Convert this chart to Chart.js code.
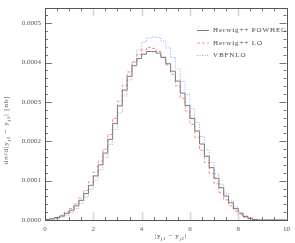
<!DOCTYPE html>
<html>
<head>
<meta charset="utf-8">
<script src="https://cdn.jsdelivr.net/npm/chart.js@4/dist/chart.umd.min.js"></script>
<style>
  html, body { margin: 0; padding: 0; background: #fff; }
  #wrap { width: 295px; height: 243px; }
</style>
</head>
<body>
<div id="wrap"><canvas id="c"></canvas></div>
<script>
// |y_j1 - y_j2| histograms, bins of 0.2 from 0 to 10
const binStart = 0;
const binWidth = 0.2;
const seriesNames = ['Herwig++ POWHEG', 'Herwig++ LO', 'VBFNLO'];
const xTicks = [0, 2, 4, 6, 8, 10];
const yTicks = [0.0000, 0.0001, 0.0002, 0.0003, 0.0004, 0.0005];

const powheg = [
  0.5e-6, 1.5e-6, 3e-6, 6e-6, 10e-6, 17e-6, 25e-6, 36e-6, 50e-6, 67e-6,
  88e-6, 112e-6, 140e-6, 170e-6, 205e-6, 245e-6, 290e-6, 330e-6, 365e-6, 392e-6,
  410e-6, 421e-6, 428e-6, 428e-6, 424e-6, 413e-6, 397e-6, 378e-6, 353e-6, 322e-6,
  291e-6, 258e-6, 226e-6, 193e-6, 162e-6, 133e-6, 106e-6, 82e-6, 61e-6, 44e-6,
  29e-6, 17e-6, 9e-6, 4e-6, 1e-6, 0, 0, 0, 0, 0
];
const lo = [
  0.6e-6, 1.8e-6, 3.5e-6, 7e-6, 12e-6, 20e-6, 29e-6, 41e-6, 56e-6, 75e-6,
  97e-6, 122e-6, 150e-6, 180e-6, 217e-6, 258e-6, 302e-6, 342e-6, 376e-6, 402e-6,
  420e-6, 432e-6, 438e-6, 436e-6, 428e-6, 414e-6, 394e-6, 370e-6, 341e-6, 309e-6,
  277e-6, 243e-6, 210e-6, 177e-6, 146e-6, 118e-6, 92e-6, 70e-6, 51e-6, 36e-6,
  23e-6, 13e-6, 7e-6, 3e-6, 1e-6, 0, 0, 0, 0, 0
];
const vbfnlo = [
  0.3e-6, 1e-6, 2e-6, 4e-6, 7e-6, 12e-6, 19e-6, 29e-6, 42e-6, 58e-6,
  78e-6, 101e-6, 128e-6, 158e-6, 192e-6, 230e-6, 272e-6, 315e-6, 356e-6, 400e-6,
  432e-6, 452e-6, 462e-6, 465e-6, 464e-6, 455e-6, 437e-6, 413e-6, 384e-6, 352e-6,
  318e-6, 283e-6, 247e-6, 212e-6, 178e-6, 146e-6, 117e-6, 91e-6, 68e-6, 49e-6,
  33e-6, 20e-6, 11e-6, 5e-6, 1.5e-6, 0, 0, 0, 0, 0
];

function steps(vals) {
  const pts = vals.map((v, i) => ({ x: binStart + i * binWidth, y: v }));
  pts.push({ x: binStart + vals.length * binWidth, y: vals[vals.length - 1] });
  return pts;
}

const FONT = '"Liberation Serif", serif';

// draw text with simple subscripts: parts = [[text, isSub], ...]
function subText(ctx, parts, x, y, size) {
  let cx = x;
  parts.forEach(([t, sub]) => {
    ctx.font = (sub ? size * 0.7 : size) + 'px ' + FONT;
    ctx.fillText(t, cx, y + (sub ? size * 0.25 : 0));
    cx += ctx.measureText(t).width;
  });
}
function subWidth(ctx, parts, size) {
  let w = 0;
  parts.forEach(([t, sub]) => {
    ctx.font = (sub ? size * 0.7 : size) + 'px ' + FONT;
    w += ctx.measureText(t).width;
  });
  return w;
}

const framePlugin = {
  id: 'frame',
  afterDatasetsDraw(chart) {
    const { ctx, chartArea: a, scales: { x, y } } = chart;
    ctx.save();
    // minor/major ticks, pointing inwards on all four sides
    for (let v = 0.5; v < 10; v += 0.5) {
      const px = Math.round(x.getPixelForValue(v)) + 0.5;
      const major = Math.abs(v / 2 - Math.round(v / 2)) < 1e-9;
      if (major) { ctx.strokeStyle = '#d6d6d6'; ctx.lineWidth = 1.6; }
      else { ctx.strokeStyle = '#777'; ctx.lineWidth = 1; }
      const len = major ? 8 : 3;
      ctx.beginPath();
      ctx.moveTo(px, a.bottom); ctx.lineTo(px, a.bottom - len);
      ctx.moveTo(px, a.top); ctx.lineTo(px, a.top + len);
      ctx.stroke();
    }
    ctx.strokeStyle = '#777'; ctx.lineWidth = 1;
    for (let k = 1; k * 0.00002 < y.max; k++) {
      const v = k * 0.00002;
      const py = Math.round(y.getPixelForValue(v)) + 0.5;
      const len = k % 5 === 0 ? 7 : 3;
      ctx.beginPath();
      ctx.moveTo(a.left, py); ctx.lineTo(a.left + len, py);
      ctx.moveTo(a.right, py); ctx.lineTo(a.right - len, py);
      ctx.stroke();
    }
    // frame
    ctx.strokeStyle = '#555';
    ctx.strokeRect(Math.round(a.left) + 0.5, Math.round(a.top) + 0.5,
      Math.round(a.right - a.left), Math.round(a.bottom - a.top));

    // legend
    ctx.textBaseline = 'middle';
    ctx.fillStyle = '#444';
    chart.data.datasets.forEach((ds, i) => {
      const ly = 30.5 + i * 12.5;
      ctx.strokeStyle = ds.borderColor;
      ctx.lineWidth = 1;
      ctx.setLineDash(ds.borderDash || []);
      ctx.beginPath(); ctx.moveTo(197, ly); ctx.lineTo(209, ly); ctx.stroke();
      ctx.setLineDash([]);
      ctx.font = '7px ' + FONT;
      ctx.letterSpacing = '0.9px';
      ctx.fillText(ds.label, 213, ly);
    });

    // axis titles
    ctx.fillStyle = '#444';
    ctx.textBaseline = 'alphabetic';
    ctx.letterSpacing = '0.6px';
    const xt = [['|y', false], ['j1', true], [' \u2212 y', false], ['j2', true], ['|', false]];
    subText(ctx, xt, 155, 238, 7);
    ctx.letterSpacing = '0.9px';
    const yt = [['d\u03c3/d|y', false], ['j1', true], [' \u2212 y', false], ['j2', true], ['| [nb]', false]];
    ctx.translate(8, 130);
    ctx.rotate(-Math.PI / 2);
    subText(ctx, yt, -subWidth(ctx, yt, 7) / 2, 0, 7);
    ctx.restore();
  }
};

new Chart(document.getElementById('c'), {
  type: 'line',
  data: {
    datasets: [
      { label: seriesNames[0], data: steps(powheg), borderColor: '#7c7c7c', borderWidth: 1, stepped: 'after', pointRadius: 0, fill: false },
      { label: seriesNames[1], data: steps(lo), borderColor: '#ff8a8a', borderWidth: 1, borderDash: [3, 2], stepped: 'after', pointRadius: 0, fill: false },
      { label: seriesNames[2], data: steps(vbfnlo), borderColor: '#a0a0ff', borderWidth: 1, borderDash: [1, 1.5], stepped: 'after', pointRadius: 0, fill: false }
    ]
  },
  options: {
    responsive: true,
    maintainAspectRatio: false,
    animation: false,
    layout: { padding: { top: 2, right: 6, left: 0, bottom: 0 } },
    scales: {
      x: {
        type: 'linear', min: 0, max: 10,
        grid: { display: false, drawTicks: false }, border: { display: false },
        afterBuildTicks: s => { s.ticks = xTicks.map(v => ({ value: v })); },
        ticks: { padding: 5, color: '#555', font: { family: FONT, size: 7 }, maxRotation: 0 },
        afterFit: s => { s.height = 23; }
      },
      y: {
        min: 0, max: 0.000538,
        grid: { display: false, drawTicks: false }, border: { display: false },
        afterBuildTicks: s => { s.ticks = yTicks.map(v => ({ value: v })); },
        ticks: { padding: 4, color: '#555', font: { family: FONT, size: 7 }, callback: v => v.toFixed(4) },
        afterFit: s => { s.width = 45; }
      }
    },
    plugins: { legend: { display: false }, tooltip: { enabled: false } }
  },
  plugins: [framePlugin]
});
</script>
</body>
</html>
